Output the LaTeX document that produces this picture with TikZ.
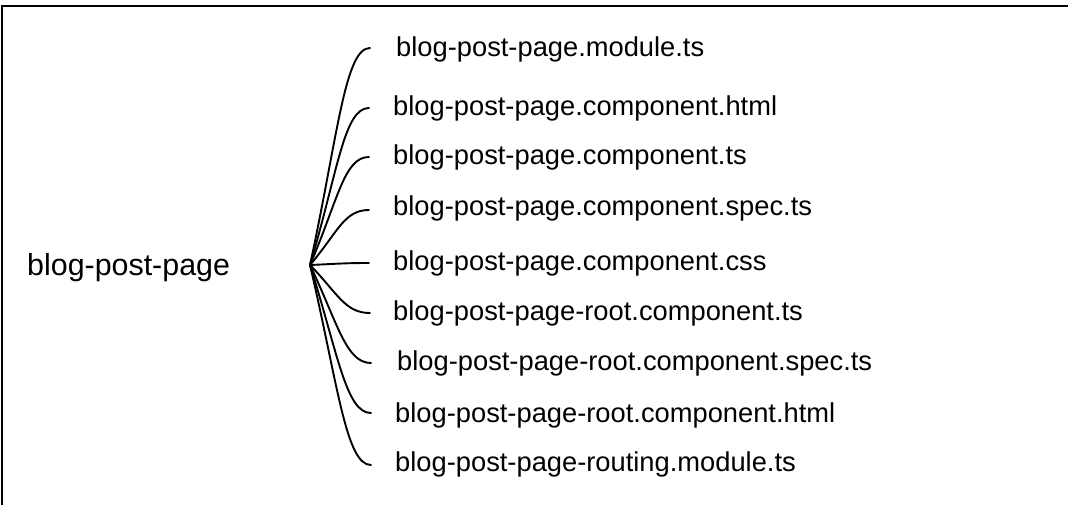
\documentclass[tikz,border=0pt]{standalone}
\usepackage{fontspec}
\setmainfont{Liberation Sans}
\usetikzlibrary{calc}
\begin{document}
\begin{tikzpicture}[x=1pt,y=-1pt,
  leaf/.style={anchor=base west,inner sep=0pt,font=\fontsize{27.3}{32}\selectfont},
  rootlabel/.style={anchor=base west,inner sep=0pt,font=\fontsize{30.4}{36}\selectfont},
  branch/.style={line width=1.9pt,line cap=round},
  frame/.style={line width=2.2pt}]
\useasboundingbox (0,0) rectangle (1068,505);
\coordinate (fa) at (2,505);
\coordinate (fb) at (2,6);
\coordinate (fc) at (1068,6);
\draw[frame] (fa) -- (fb) -- (fc);
\node[rootlabel] (root) at (27,275) {blog-post-page};
\coordinate (hub) at (310,265);
\node[leaf] (t1) at (396,57) {blog-post-page.module.ts};
\node[leaf] (t2) at (393,116) {blog-post-page.component.html};
\node[leaf] (t3) at (393,165) {blog-post-page.component.ts};
\node[leaf] (t4) at (393,216) {blog-post-page.component.spec.ts};
\node[leaf] (t5) at (393,270) {blog-post-page.component.css};
\node[leaf] (t6) at (393,320) {blog-post-page-root.component.ts};
\node[leaf] (t7) at (397,370) {blog-post-page-root.component.spec.ts};
\node[leaf] (t8) at (395,422) {blog-post-page-root.component.html};
\node[leaf] (t9) at (395,471) {blog-post-page-routing.module.ts};
\coordinate (e1) at (370,48);
\coordinate (e2) at (369,108);
\coordinate (e3) at (369,157);
\coordinate (e4) at (369,210);
\coordinate (e5) at (369,263);
\coordinate (e6) at (370,313);
\coordinate (e7) at (371,363);
\coordinate (e8) at (371,413);
\coordinate (e9) at (371,465);
\foreach \e in {e1,e2,e3,e4,e5,e6,e7,e8,e9}{
  \draw[branch] (hub) .. controls ($(hub)!0.6!(hub|-\e)+(28,0)$) and ($(\e)+(-25,0)$) .. (\e);
}
\end{tikzpicture}
\end{document}
